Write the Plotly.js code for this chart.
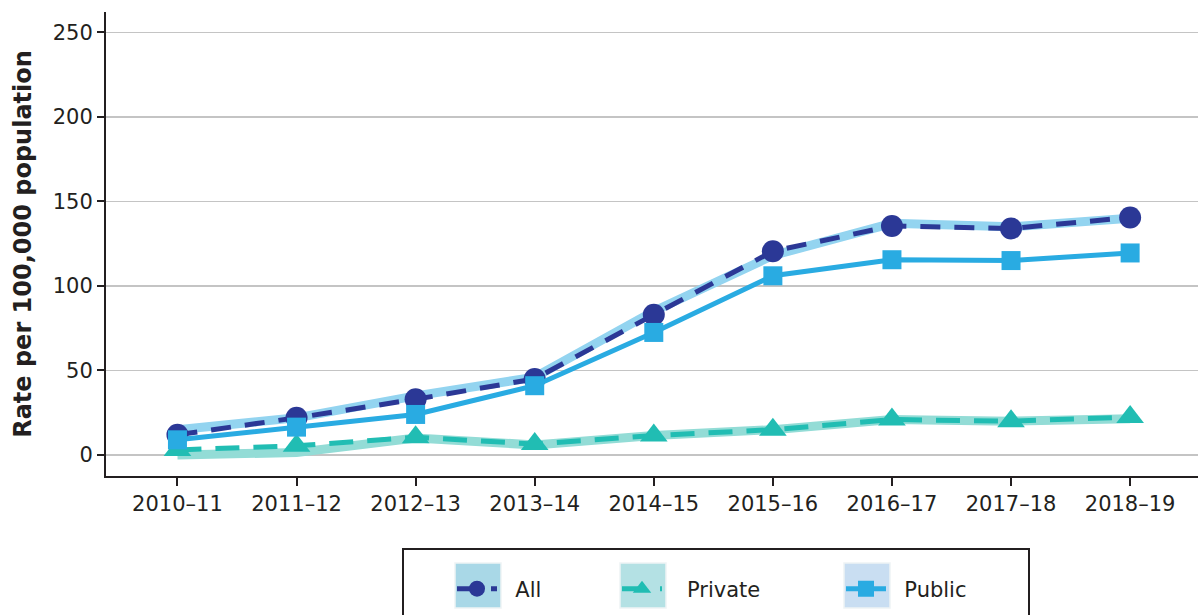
<!DOCTYPE html>
<html>
<head>
<meta charset="utf-8">
<script src="https://cdn.plot.ly/plotly-3.0.1.min.js"></script>
<style>html,body{margin:0;padding:0;background:#fff;}#chart{width:1198px;height:615px;}</style>
</head>
<body>
<div id="chart"></div>
<script>
// ---- data ----
const years = ["2010–11","2011–12","2012–13","2013–14","2014–15","2015–16","2016–17","2017–18","2018–19"];
const allRate = [12, 22, 33, 45, 83, 120.5, 135.5, 134, 140.5];
const privateRate = [3, 5.5, 10.5, 6.5, 11.5, 15, 21, 20, 22.5];
const publicRate = [9, 16.5, 24, 41, 72.5, 106, 115.5, 115, 119.5];
// lighter underlying series
const allLight = [15, 22, 35, 46, 85, 118, 137, 135, 140];
const privateLight = [0, 1.5, 10, 6, 11.5, 15, 21, 20, 21.5];
const seriesNames = ["All", "Private", "Public"];
const yTicks = [0, 50, 100, 150, 200, 250];

// ---- layout helpers (pixel -> paper) ----
const W = 1198, H = 615;
const M = {l: 106, r: 0, t: 12, b: 139};
const PW = W - M.l - M.r, PH = H - M.t - M.b;
const px = x => (x - M.l) / PW;
const py = y => (H - M.b - y) / PH;
const pad = n => "\u00a0".repeat(n);

const font = "DejaVu Sans, sans-serif";
const ink = "#231f20";
const navy = "#2b3896", teal = "#21bdb3", blue = "#29abe2";
const lightBlue = "#93d4f0", lightTeal = "#93dcd6";

const traces = [
  {x: years, y: allLight, type: "scatter", mode: "lines", showlegend: false, hoverinfo: "skip",
   line: {color: lightBlue, width: 9}},
  {x: years, y: privateLight, type: "scatter", mode: "lines", showlegend: false, hoverinfo: "skip",
   line: {color: lightTeal, width: 9}},
  {x: years, y: allRate, name: pad(2) + seriesNames[0], type: "scatter", mode: "lines+markers", legend: "legend",
   line: {color: navy, width: 5, dash: "20px,14px"}, marker: {symbol: "circle", size: 22, color: navy}},
  {x: years, y: privateRate, name: pad(3) + seriesNames[1], type: "scatter", mode: "lines+markers", legend: "legend2",
   line: {color: teal, width: 5, dash: "24px,14px"}, marker: {symbol: "triangle-up", size: 24, color: teal}},
  {x: years, y: publicRate, name: pad(2) + seriesNames[2], type: "scatter", mode: "lines+markers", legend: "legend3",
   line: {color: blue, width: 5}, marker: {symbol: "square", size: 19, color: blue}}
];

function legendAt(xpix) {
  return {x: px(xpix), xanchor: "left", y: py(589), yanchor: "middle", orientation: "h",
          bgcolor: "rgba(0,0,0,0)", borderwidth: 0, itemwidth: 40,
          font: {family: font, size: 21, color: ink}};
}

const shapes = [
  {type: "rect", xref: "paper", yref: "paper", x0: px(403), x1: px(1029), y0: py(549), y1: py(640),
   line: {color: ink, width: 2}, fillcolor: "rgba(0,0,0,0)"},
  {type: "rect", xref: "paper", yref: "paper", x0: px(455), x1: px(501), y0: py(563), y1: py(608),
   line: {color: "#eef3f5", width: 1.5}, fillcolor: "#a9d8e7", layer: "below"},
  {type: "rect", xref: "paper", yref: "paper", x0: px(620), x1: px(666), y0: py(563), y1: py(608),
   line: {color: "#eef3f5", width: 1.5}, fillcolor: "#b4e1e4", layer: "below"},
  {type: "rect", xref: "paper", yref: "paper", x0: px(844), x1: px(890), y0: py(563), y1: py(608),
   line: {color: "#eef3f5", width: 1.5}, fillcolor: "#c9def2", layer: "below"}
];

const layout = {
  width: W, height: H,
  margin: M,
  paper_bgcolor: "#fff", plot_bgcolor: "#fff",
  font: {family: font, size: 21, color: ink},
  xaxis: {type: "category", range: [-0.6, 8.57], showgrid: false, zeroline: false,
          showline: true, linecolor: ink, linewidth: 2, ticks: "outside", ticklen: 8,
          tickwidth: 2, tickcolor: ink, tickfont: {family: font, size: 21, color: ink}},
  yaxis: {range: [-12.4, 262], tickvals: yTicks, showgrid: true, gridcolor: "#c4c4c4", gridwidth: 1.5,
          zeroline: false, showline: true, linecolor: ink, linewidth: 2, ticks: "outside",
          ticklen: 7, tickwidth: 2, tickcolor: ink,
          tickfont: {family: font, size: 21, color: ink},
          title: {text: "<b>Rate per 100,000 population</b>", standoff: 14,
                  font: {family: font, size: 24, color: ink}}},
  showlegend: true,
  legend: legendAt(452),
  legend2: legendAt(617),
  legend3: legendAt(841),
  shapes: shapes
};

Plotly.newPlot("chart", traces, layout, {displayModeBar: false, staticPlot: true});
</script>
</body>
</html>
